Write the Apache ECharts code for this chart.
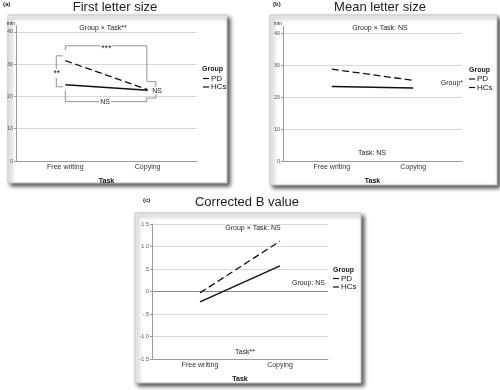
<!DOCTYPE html>
<html><head><meta charset="utf-8">
<script src="https://cdn.jsdelivr.net/npm/echarts@6/dist/echarts.min.js"></script>
<style>html,body{margin:0;padding:0;background:#fff}#c{width:500px;height:390px}</style>
</head><body><div id="c"></div>
<script>
// ---- data ----
const categories = ['Free writing', 'Copying'];
const groups = ['PD', 'HCs'];
const firstPD = [23.6, 21.9];
const firstHC = [31.1, 22.1];
const meanPD = [23.3, 22.8];
const meanHC = [28.7, 25.2];
const bPD = [-0.23, 0.57];
const bHC = [-0.03, 1.12];
const ticksAB = [0, 10, 20, 30, 40];
const ticksC = [-1.5, -1, -0.5, 0, 0.5, 1, 1.5];
// significance brackets of panel (a), in data coordinates (x: category index, y: mm)
const bracketTop = [[0, 34.4], [0, 35.7], [0.99, 35.7], [0.99, 24.6]];
const bracketBottom = [[0, 21.9], [0, 18.4], [0.99, 18.4], [0.99, 19.8]];
const bracketLeft = [[-0.03, 32.6], [-0.11, 32.6], [-0.11, 23.0], [-0.03, 23.0]];
const bracketRight = [[1.0, 24.6], [1.1, 24.6], [1.1, 19.5], [1.0, 19.5]];

const FONT = '"Liberation Sans", Arial, sans-serif';
const chart = echarts.init(document.getElementById('c'), null, {renderer: 'canvas'});

function toPts(arr) { return categories.map((c, i) => [i, arr[i]]); }

function xAxisDef(gi) {
  return {
    type: 'value', gridIndex: gi, min: -0.6, max: 1.6,
    axisLine: {show: true, onZero: false, lineStyle: {color: '#9a9a9a', width: 1}},
    axisTick: {show: false},
    splitLine: {show: false},
    axisLabel: {customValues: [0, 1], formatter: v => categories[Math.round(v)] || '',
      fontSize: 7, color: '#333', margin: 3, fontFamily: FONT},
    name: 'Task', nameLocation: 'middle', nameGap: 17,
    nameTextStyle: {fontSize: 7, fontWeight: 'bold', color: '#111', fontFamily: FONT}
  };
}
function yAxisDef(gi, min, max, ticks, fmt) {
  return {
    type: 'value', gridIndex: gi, min: min, max: max,
    axisLine: {show: true, onZero: false, lineStyle: {color: '#9a9a9a', width: 1}},
    axisTick: {show: true, customValues: ticks, length: 2, lineStyle: {color: '#9a9a9a'}},
    splitLine: {show: true, lineStyle: {color: '#d8d8d8', width: 1}},
    axisLabel: {customValues: ticks, formatter: fmt, fontSize: 5.5, color: '#555', margin: 3, fontFamily: FONT}
  };
}
function fmtC(v) {
  const s = Math.abs(v).toFixed(1).replace(/^0/, '');
  return (v < 0 ? '-' : '') + s;
}
function lineSeries(name, gi, arr, dashed) {
  return {
    type: 'line', name: name, xAxisIndex: gi, yAxisIndex: gi, data: toPts(arr),
    symbol: 'none', color: '#111', itemStyle: {color: '#111'},
    lineStyle: {color: '#111', width: dashed ? 1.3 : 1.5, type: dashed ? [7, 3.5] : 'solid'},
    z: 5
  };
}
function bracket(arr) {
  return {
    type: 'line', name: 'bracket', xAxisIndex: 0, yAxisIndex: 0, data: arr,
    symbol: 'none', silent: true, color: '#777',
    lineStyle: {color: '#777', width: 0.8}, z: 3
  };
}
function legendDef(left, top) {
  return {
    orient: 'vertical', left: left, top: top, padding: 0, itemGap: 0.5,
    itemWidth: 6, itemHeight: 1.2, icon: 'rect', data: groups,
    textStyle: {fontSize: 8, color: '#111', fontFamily: FONT, padding: [0, 0, 0, -3]},
    selectedMode: false
  };
}
function txt(x, y, s, size, opts) {
  opts = opts || {};
  return {
    type: 'text', x: x, y: y, z: 100,
    style: Object.assign({
      text: s, fill: '#222', textAlign: opts.align || 'center', textVerticalAlign: 'middle',
      font: (opts.bold ? 'bold ' : '') + size + 'px ' + FONT
    }, opts.bg ? {backgroundColor: '#fff', padding: [0, 1]} : {})
  };
}
function frame(x, y, w, h) {
  return {
    type: 'rect', z: -100, shape: {x: x, y: y, width: w, height: h},
    style: {fill: '#fff', stroke: '#c4c4c4', lineWidth: 1,
      shadowColor: 'rgba(0,0,0,0.65)', shadowBlur: 4, shadowOffsetX: 2.5, shadowOffsetY: 2.5}
  };
}

const option = {
  animation: false,
  backgroundColor: '#fff',
  grid: [
    {left: 16, top: 25.5, width: 181, height: 135.5},
    {left: 283, top: 26.6, width: 179, height: 134.4},
    {left: 152, top: 224, width: 176, height: 135}
  ],
  xAxis: [xAxisDef(0), xAxisDef(1), xAxisDef(2)],
  yAxis: [
    yAxisDef(0, 0, 42, ticksAB, v => String(v)),
    yAxisDef(1, 0, 42, ticksAB, v => String(v)),
    yAxisDef(2, -1.5, 1.5, ticksC, fmtC)
  ],
  legend: [legendDef(203, 74.5), legendDef(469, 75), legendDef(333, 274.5)],
  series: [
    lineSeries('PD', 0, firstPD, false),
    lineSeries('HCs', 0, firstHC, true),
    lineSeries('PD', 1, meanPD, false),
    lineSeries('HCs', 1, meanHC, true),
    Object.assign(lineSeries('PD', 2, bPD, false), {
      markLine: {silent: true, symbol: 'none', label: {show: false},
        lineStyle: {color: '#8a8a8a', width: 1, type: 'solid'}, data: [{yAxis: 0}]}
    }),
    lineSeries('HCs', 2, bHC, true),
    bracket(bracketTop), bracket(bracketBottom), bracket(bracketLeft), bracket(bracketRight)
  ],
  graphic: [
    frame(8, 15, 219, 168),
    frame(270, 15, 227, 170),
    frame(135, 213, 226, 170),
    // panel a
    txt(3, 4, '(a)', 6, {align: 'left', bold: true}),
    txt(115, 7, 'First letter size', 13),
    txt(15, 24, 'mm', 5, {align: 'right'}),
    txt(103, 28, 'Group × Task**', 7),
    txt(106.5, 48.5, '***', 8.5, {bg: true}),
    txt(105, 101.7, 'NS', 7, {bg: true}),
    txt(56.7, 73.5, '**', 8.5, {bg: true}),
    txt(157, 90.7, 'NS', 7, {bg: true}),
    txt(202, 69, 'Group', 7, {align: 'left', bold: true}),
    // panel b
    txt(273, 4, '(b)', 6, {align: 'left', bold: true}),
    txt(380, 7, 'Mean letter size', 13),
    txt(282, 24, 'mm', 5, {align: 'right'}),
    txt(380, 28, 'Group × Task: NS', 7),
    txt(463, 83, 'Group*', 7, {align: 'right'}),
    txt(372, 153, 'Task: NS', 7),
    txt(469, 70, 'Group', 7, {align: 'left', bold: true}),
    // panel c
    txt(143, 200, '(c)', 6, {align: 'left', bold: true}),
    txt(247, 202, 'Corrected B value', 13),
    txt(253, 228, 'Group × Task: NS', 7),
    txt(325, 283, 'Group: NS', 7, {align: 'right'}),
    txt(245, 352, 'Task**', 7),
    txt(333, 270, 'Group', 7, {align: 'left', bold: true})
  ]
};
chart.setOption(option);
</script>
</body></html>
